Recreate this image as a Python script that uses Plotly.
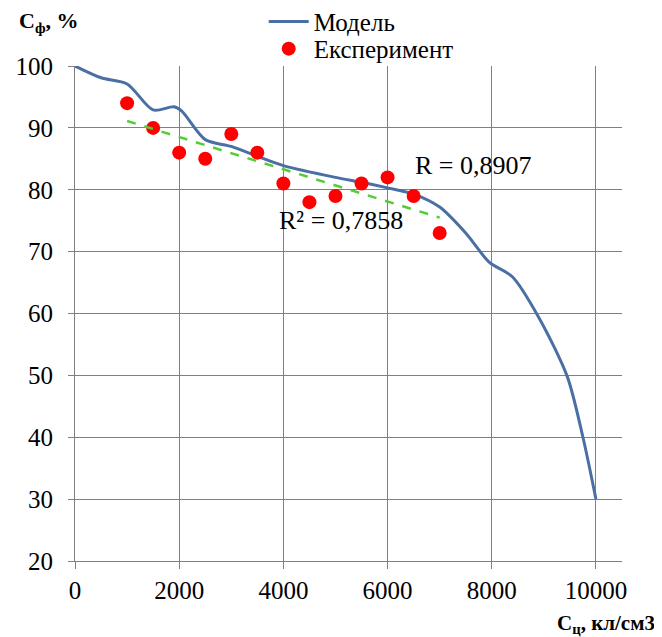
import numpy as np
import plotly.graph_objects as go

# Model curve
model_x = [0, 500, 1000, 1500, 1900, 2050, 2500, 3000, 3500, 4000, 5000, 5500, 6000, 6500, 7000, 7500, 7950, 8400, 8900, 9450, 9750, 10000]
model_y = [100, 98.1, 97.1, 92.9, 93.4, 92.7, 88.1, 87.0, 85.4, 83.9, 82.0, 81.2, 80.3, 79.3, 77.2, 73.0, 68.3, 65.9, 59.4, 49.8, 40.0, 30.0]

# Experimental points
exp_x = [1000, 1500, 2000, 2500, 3000, 3500, 4000, 4500, 5000, 5500, 6000, 6500, 7000]
exp_y = [94, 90, 86, 85, 89, 86, 81, 78, 79, 81, 82, 79, 73]

x_ticks = [0, 2000, 4000, 6000, 8000, 10000]
y_ticks = [20, 30, 40, 50, 60, 70, 80, 90, 100]

# Linear trend of experimental points
k, b = np.polyfit(exp_x, exp_y, 1)
trend_x = [min(exp_x), max(exp_x)]
trend_y = [k * v + b for v in trend_x]

FONT = "Liberation Serif, Times New Roman, serif"

fig = go.Figure()
fig.add_trace(go.Scatter(x=model_x, y=model_y, mode="lines", name="Модель", legend="legend",
                         line=dict(color="#4A6FA5", width=3, shape="spline", smoothing=0.8)))
fig.add_trace(go.Scatter(x=exp_x, y=exp_y, mode="markers", name="Експеримент", legend="legend2",
                         marker=dict(color="#FF0000", size=14)))
fig.add_trace(go.Scatter(x=trend_x, y=trend_y, mode="lines", showlegend=False,
                         line=dict(color="#55CC33", width=2.5, dash="dash")))

legend_style = dict(xanchor="left", yanchor="top",
                    font=dict(family=FONT, size=25, color="black"),
                    bgcolor="rgba(0,0,0,0)", itemwidth=40)

fig.update_layout(
    width=662, height=637,
    margin=dict(l=67, r=48, t=58, b=84, autoexpand=False),
    paper_bgcolor="white", plot_bgcolor="white",
    font=dict(family=FONT, size=25, color="black"),
    showlegend=True,
    legend=dict(x=0.345, y=1.136, **legend_style),
    legend2=dict(x=0.345, y=1.081, **legend_style),
    xaxis=dict(range=[0, 10500], tickvals=x_ticks, ticktext=[str(v) for v in x_ticks],
               showgrid=True, gridcolor="#808080", gridwidth=1,
               zeroline=False, showline=True, linecolor="#808080", linewidth=1,
               ticks="outside", ticklen=7, tickcolor="#808080", ticklabelstandoff=0,
               tickfont=dict(family=FONT, size=25, color="black")),
    yaxis=dict(range=[20, 100], tickvals=y_ticks, ticktext=[str(v) for v in y_ticks],
               showgrid=True, gridcolor="#808080", gridwidth=1,
               zeroline=False, showline=True, linecolor="#808080", linewidth=1,
               ticks="outside", ticklen=6, tickcolor="#808080", ticklabelstandoff=10,
               tickfont=dict(family=FONT, size=25, color="black")),
)

fig.add_annotation(xref="paper", yref="paper", x=-0.106, y=1.089, xanchor="left", yanchor="middle",
                   text="<b>С<sub>ф</sub>, %</b>", showarrow=False,
                   font=dict(family=FONT, size=22, color="black"))
fig.add_annotation(xref="paper", yref="paper", x=1.064, y=-0.127, xanchor="right", yanchor="middle",
                   text="<b>С<sub>ц</sub>, кл/см3</b>", showarrow=False,
                   font=dict(family=FONT, size=21, color="black"))
fig.add_annotation(xref="x", yref="y", x=7640, y=84.0, text="R = 0,8907", showarrow=False,
                   font=dict(family=FONT, size=26, color="black"))
fig.add_annotation(xref="x", yref="y", x=5115, y=75.1, text="R² = 0,7858", showarrow=False,
                   font=dict(family=FONT, size=26, color="black"))

fig.write_html("out.html")
